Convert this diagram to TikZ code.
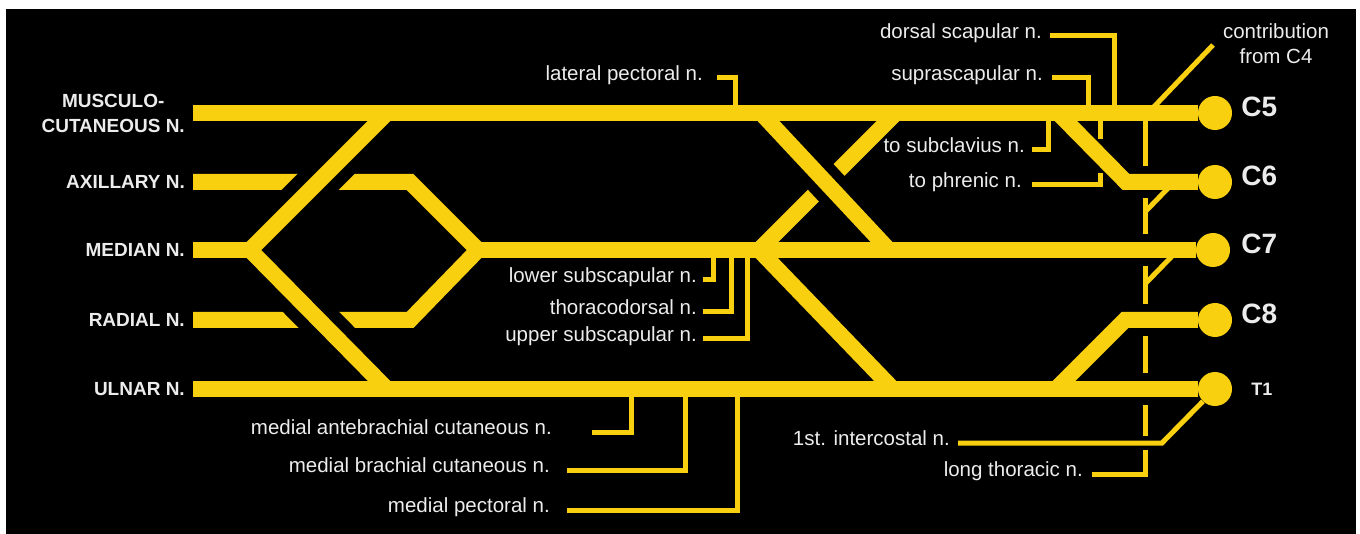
\documentclass[tikz,border=0pt]{standalone}
\usepackage{fontspec}
\setmainfont{Liberation Sans}
\usetikzlibrary{calc,positioning}

\definecolor{nerve}{RGB}{248,208,16}
\definecolor{labeltxt}{RGB}{236,236,236}

\tikzset{
  trunk/.style={draw=nerve, line width=16pt},
  twig/.style={draw=nerve, line width=5pt},
  halo/.style={preaction={draw=black, line width=#1, shorten <=45pt, shorten >=45pt}},
  cut/.style={draw=black, line width=8pt},
  root/.style={circle, fill=nerve, minimum size=34pt, inner sep=0pt},
  rootlbl/.style={text=labeltxt, font=\bfseries\fontsize{28}{30}\selectfont, anchor=west, inner sep=0pt, text height=0.72em, text depth=0pt},
  cordlbl/.style={text=labeltxt, font=\bfseries\fontsize{19}{25}\selectfont, anchor=east, align=right, inner xsep=8pt, inner ysep=0pt},
  branchlbl/.style={text=labeltxt, font=\fontsize{20.5}{25}\selectfont, anchor=east, inner sep=0pt, text height=0.73em, text depth=0.21em},
}

\begin{document}
\begin{tikzpicture}[x=1pt, y=-1pt]
	\useasboundingbox (0,0) rectangle (1360,534);
	\fill[white] (0,0) rectangle (1360,534);
	\fill[black] (6,9) rectangle (1356,534);

	% roots
	\node[root] (c5) at (1215,113) {};
	\node[root] (c6) at (1215,182) {};
	\node[root] (c7) at (1213,250) {};
	\node[root] (c8) at (1215,320) {};
	\node[root] (t1) at (1215,389) {};
	\node[rootlbl, right=9pt of c5] (c5l) {C5};
	\node[rootlbl, right=9pt of c6] (c6l) {C6};
	\node[rootlbl, right=11pt of c7] (c7l) {C7};
	\node[rootlbl, right=9pt of c8] (c8l) {C8};
	\node[rootlbl, font=\bfseries\fontsize{18}{20}\selectfont, right=19pt of t1, yshift=-3pt] (t1l) {T1};

	% terminal nerves
	\node[cordlbl, align=center] (mc) at (193,113) {MUSCULO-\\CUTANEOUS N.};
	\node[cordlbl] (ax) at (193,182) {AXILLARY N.};
	\node[cordlbl] (md) at (193,250) {MEDIAN N.};
	\node[cordlbl] (rd) at (193,320) {RADIAL N.};
	\node[cordlbl] (ul) at (193,389) {ULNAR N.};

	% branch labels
	\node[branchlbl] (lp) at (703,78) {lateral pectoral n.};
	\node[branchlbl] (ds) at (1042,36) {dorsal scapular n.};
	\node[branchlbl] (ss) at (1043,78) {suprascapular n.};
	\node[branchlbl] (sc) at (1025,150) {to subclavius n.};
	\node[branchlbl] (ph) at (1022,185) {to phrenic n.};
	\node[branchlbl] (ls) at (697,280) {lower subscapular n.};
	\node[branchlbl] (td) at (697,312) {thoracodorsal n.};
	\node[branchlbl] (us) at (697,339) {upper subscapular n.};
	\node[branchlbl] (mab) at (552,432) {medial antebrachial cutaneous n.};
	\node[branchlbl] (mbc) at (550,470) {medial brachial cutaneous n.};
	\node[branchlbl] (mp) at (550,510) {medial pectoral n.};
	\node[branchlbl] (ic) at (950,443) {1st. intercostal n.};
	\node[branchlbl] (lt) at (1083,474) {long thoracic n.};
	\node[text=labeltxt, font=\fontsize{20.5}{25}\selectfont, align=center, inner sep=0pt] (c4) at (1276,44) {contribution\\from C4};

	% junctions
	\coordinate (mj) at (250,250);
	\coordinate (mcj) at (387,113);
	\coordinate (ulj) at (387,389);
	\coordinate (axk) at (410,182);
	\coordinate (rdk) at (410,320);
	\coordinate (pj) at (478,250);
	\coordinate (latj) at (761,113);
	\coordinate (latk) at (889,250);
	\coordinate (mdk) at (896,113);
	\coordinate (mdj) at (759,250);
	\coordinate (ulk) at (893,389);
	\coordinate (c6k) at (1126,182);
	\coordinate (c6j) at (1058,113);
	\coordinate (c8k) at (1125,320);
	\coordinate (c8j) at (1056,389);
	\coordinate (lpj) at (735,113);
	\coordinate (dsj) at (1114,113);
	\coordinate (ssj) at (1088,113);
	\coordinate (scj) at (1048,113);
	\coordinate (phj) at (1100,113);
	\coordinate (ltj) at (1145,113);
	\coordinate (c4j) at (1148,113);
	\coordinate (c4s) at (1213,45);
	\coordinate (lsj) at (713,250);
	\coordinate (tdj) at (731,250);
	\coordinate (usj) at (747,250);
	\coordinate (mabj) at (631,389);
	\coordinate (mbcj) at (685,389);
	\coordinate (mpj) at (737,389);
	\coordinate (ick) at (1162,443);
	\coordinate (phx) at ($(c6k)!0.38!(c6j)$);

	% lines that pass under
	\draw[twig] ([xshift=9pt]lt.east) -| (ltj);
	\draw[twig] ([xshift=10pt]ph.east) -| (phj);
	\foreach \r in {c6,c7,c8,t1}
		\draw[cut] ($(ltj |- \r)+(0,-16)$) -- ($(ltj |- \r)+(0,16)$);
	\draw[cut] ($(ltj |- ic.east)+(0,-7)$) -- ($(ltj |- ic.east)+(0,7)$);
	\draw[cut] ($(phj |- phx)+(0,-17)$) -- ($(phj |- phx)+(0,17)$);
	\draw[trunk] (ax.east) -- (axk) -- (pj);
	\draw[trunk] (rd.east) -- (rdk) -- (pj);
	\draw[trunk] (mdk) -- (mdj);

	% trunks and cords
	\draw[trunk] (mc.east) -- (c5);
	\draw[trunk] (md.east) -- (mj);
	\draw[trunk] (pj) -- (c7);
	\draw[trunk] (ul.east) -- (t1);
	\draw[trunk] (c6) -- (c6k) -- (c6j);
	\draw[trunk] (c8) -- (c8k) -- (c8j);
	\draw[trunk] (mdj) -- (ulk);
	\draw[trunk, halo=40pt] (mj) -- (mcj);
	\draw[trunk, halo=40pt] (mj) -- (ulj);
	\draw[trunk, halo=36pt] (latj) -- (latk);

	% branches
	\draw[twig] ([xshift=14pt]lp.east) -| (lpj);
	\draw[twig] ([xshift=8pt]ds.east) -| (dsj);
	\draw[twig] ([xshift=9pt]ss.east) -| (ssj);
	\draw[twig] ([xshift=7pt]sc.east) -| (scj);
	\draw[twig] ([xshift=6pt]ls.east) -| (lsj);
	\draw[twig] ([xshift=6pt]td.east) -| (tdj);
	\draw[twig] ([xshift=6pt]us.east) -| (usj);
	\draw[twig] ([xshift=40pt]mab.east) -| (mabj);
	\draw[twig] ([xshift=17pt]mbc.east) -| (mbcj);
	\draw[twig] ([xshift=17pt]mp.east) -| (mpj);
	\draw[twig] ([xshift=8pt]ic.east) -- (ick) -- (t1);
	\draw[twig] (c4s) -- (c4j);
	\draw[twig] ($(ltj |- c6)+(0,30)$) -- ($(c6)+(-41,0)$);
	\draw[twig] ($(ltj |- c7)+(0,34)$) -- ($(c7)+(-35,0)$);
\end{tikzpicture}
\end{document}
